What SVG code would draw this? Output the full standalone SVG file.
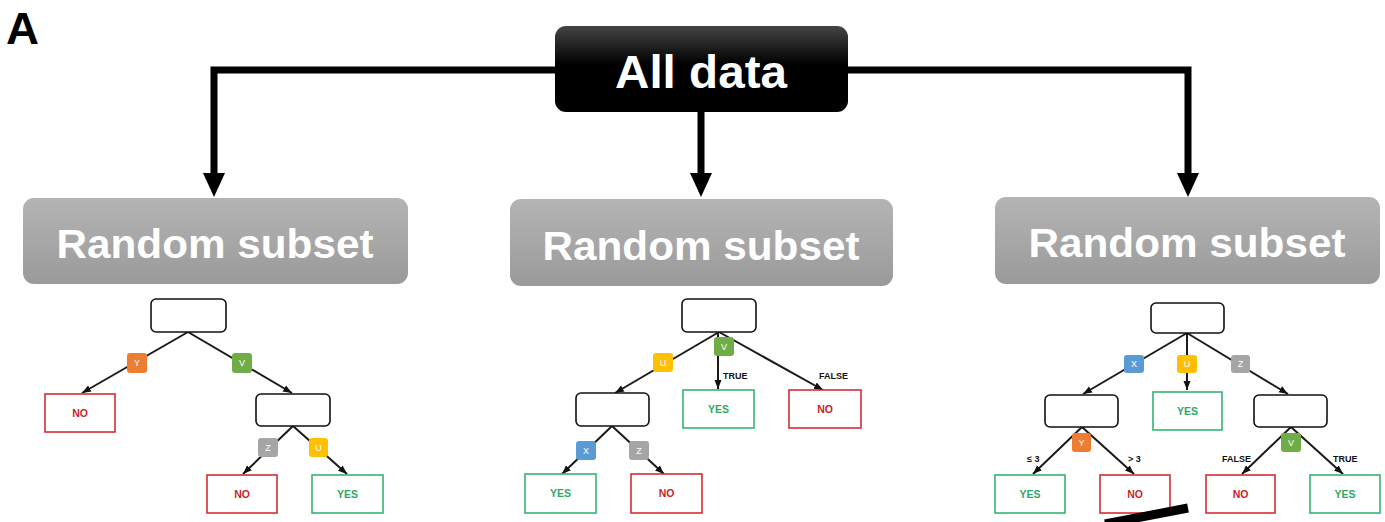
<svg xmlns="http://www.w3.org/2000/svg" width="1385" height="522" viewBox="0 0 1385 522">
<defs>
<linearGradient id="gBlack" x1="0" y1="0" x2="0" y2="1"><stop offset="0" stop-color="#454545"/><stop offset="0.45" stop-color="#000"/><stop offset="1" stop-color="#000"/></linearGradient>
<linearGradient id="gGray" x1="0" y1="0" x2="0" y2="1"><stop offset="0" stop-color="#b4b4b4"/><stop offset="1" stop-color="#9a9a9a"/></linearGradient>
<marker id="ah" markerUnits="userSpaceOnUse" markerWidth="10" markerHeight="10" viewBox="0 0 10 10" refX="9" refY="5" orient="auto"><path d="M0,1.5 L9,5 L0,8.5 z" fill="#111"/></marker>
</defs>
<style>
.lbl{font-family:"Liberation Sans",Arial,sans-serif;font-weight:bold}
.big{fill:#fff;font-size:40px;text-anchor:middle}
.node{fill:#fff;stroke:#111;stroke-width:1.6}
.no{fill:#fff;stroke:#d52b35;stroke-width:1.6}
.yes{fill:#fff;stroke:#33b56e;stroke-width:1.6}
.tno{fill:#c81e2a;font-size:10.5px;text-anchor:middle}
.tyes{fill:#2fa866;font-size:10.5px;text-anchor:middle}
.tag{font-size:9px;fill:#fff;text-anchor:middle;font-weight:normal}
.edge{font-size:9px;fill:#111}
.ln{stroke:#1a1a1a;stroke-width:2;fill:none}
.arr{stroke:#1a1a1a;stroke-width:2;fill:none;marker-end:url(#ah)}
.o{fill:#ed7d31}.g{fill:#70ad47}.y{fill:#ffc000}.z{fill:#a5a5a5}.b{fill:#5b9bd5}
.thick{stroke:#000;stroke-width:7;fill:none}
</style>
<text x="6" y="44" class="lbl" font-size="45" textLength="33" lengthAdjust="spacingAndGlyphs">A</text>

<g id="connectors">
<path class="thick" d="M556,70 H214 V176"/>
<polygon points="203,173 225,173 214,197" fill="#000"/>
<path class="thick" d="M701,112 V176"/>
<polygon points="690,173 712,173 701,197" fill="#000"/>
<path class="thick" d="M847,70 H1188 V176"/>
<polygon points="1177,173 1199,173 1188,197" fill="#000"/>
</g>

<g id="all-data">
<rect x="555" y="26" width="293" height="86" rx="11" fill="url(#gBlack)"/>
<text x="701" y="88" class="lbl" fill="#fff" font-size="47" text-anchor="middle" textLength="172" lengthAdjust="spacingAndGlyphs">All data</text>
</g>
<g id="subset1">
<rect x="23" y="198" width="385" height="86" rx="11" fill="url(#gGray)"/>
<text x="215" y="258" class="lbl big" textLength="317" lengthAdjust="spacingAndGlyphs">Random subset</text>
</g>
<g id="subset2">
<rect x="510" y="199" width="383" height="87" rx="11" fill="url(#gGray)"/>
<text x="701" y="260" class="lbl big" textLength="317" lengthAdjust="spacingAndGlyphs">Random subset</text>
</g>
<g id="subset3">
<rect x="995" y="197" width="385" height="87" rx="11" fill="url(#gGray)"/>
<text x="1187" y="257" class="lbl big" textLength="317" lengthAdjust="spacingAndGlyphs">Random subset</text>
</g>

<!-- Tree 1 -->
<g id="tree1-edges">
<line class="arr" x1="188" y1="332" x2="82" y2="393"/>
<line class="arr" x1="188" y1="332" x2="292" y2="393"/>
<line class="arr" x1="293" y1="426" x2="243" y2="474"/>
<line class="arr" x1="293" y1="426" x2="347" y2="474"/>
</g>
<g id="tree1">
<rect class="node" x="151" y="299" width="75" height="33" rx="5"/>
<rect class="o" x="127" y="353" width="20" height="20" rx="3"/><text class="lbl tag" x="137" y="366">Y</text>
<rect class="g" x="232" y="353" width="20" height="20" rx="3"/><text class="lbl tag" x="242" y="366">V</text>
<rect class="no" x="45" y="394" width="70" height="38"/><text class="lbl tno" x="80" y="417">NO</text>
<rect class="node" x="256" y="394" width="74" height="32" rx="5"/>
<rect class="z" x="258" y="438" width="20" height="19" rx="3"/><text class="lbl tag" x="268" y="451">Z</text>
<rect class="y" x="309" y="438" width="19" height="19" rx="3"/><text class="lbl tag" x="318.5" y="451">U</text>
<rect class="no" x="207" y="475" width="70" height="38"/><text class="lbl tno" x="242" y="498">NO</text>
<rect class="yes" x="312" y="475" width="71" height="38"/><text class="lbl tyes" x="347.5" y="498">YES</text>
</g>

<!-- Tree 2 -->
<g id="tree2-edges">
<line class="arr" x1="719" y1="332" x2="615" y2="393"/>
<line class="arr" x1="718" y1="332" x2="718" y2="389"/>
<line class="arr" x1="719" y1="332" x2="823" y2="390"/>
<line class="arr" x1="612" y1="426" x2="562" y2="474"/>
<line class="arr" x1="612" y1="426" x2="664" y2="474"/>
</g>
<g id="tree2">
<rect class="node" x="682" y="299" width="74" height="33" rx="5"/>
<rect class="y" x="653" y="353" width="20" height="19" rx="3"/><text class="lbl tag" x="663" y="366">U</text>
<rect class="g" x="714" y="337" width="20" height="19" rx="3"/><text class="lbl tag" x="724" y="350">V</text>
<text class="lbl edge" x="723" y="379">TRUE</text>
<text class="lbl edge" x="819" y="379">FALSE</text>
<rect class="node" x="576" y="393" width="73" height="33" rx="5"/>
<rect class="yes" x="683" y="390" width="71" height="38"/><text class="lbl tyes" x="718.5" y="413">YES</text>
<rect class="no" x="789" y="390" width="72" height="38"/><text class="lbl tno" x="825" y="413">NO</text>
<rect class="b" x="576" y="441" width="20" height="19" rx="3"/><text class="lbl tag" x="586" y="454">X</text>
<rect class="z" x="629" y="441" width="20" height="19" rx="3"/><text class="lbl tag" x="639" y="454">Z</text>
<rect class="yes" x="525" y="474" width="71" height="39"/><text class="lbl tyes" x="560.5" y="497">YES</text>
<rect class="no" x="631" y="474" width="71" height="39"/><text class="lbl tno" x="666.5" y="497">NO</text>
</g>

<!-- Tree 3 -->
<g id="tree3-edges">
<line class="arr" x1="1187" y1="333" x2="1083" y2="394"/>
<line class="arr" x1="1187" y1="333" x2="1187" y2="390"/>
<line class="arr" x1="1187" y1="333" x2="1288" y2="394"/>
<line class="arr" x1="1082" y1="427" x2="1033" y2="474"/>
<line class="arr" x1="1082" y1="427" x2="1134" y2="474"/>
<line class="arr" x1="1291" y1="427" x2="1242" y2="474"/>
<line class="arr" x1="1291" y1="427" x2="1343" y2="474"/>
</g>
<g id="tree3">
<rect class="node" x="1151" y="303" width="73" height="30" rx="5"/>
<rect class="b" x="1124" y="355" width="20" height="18" rx="3"/><text class="lbl tag" x="1134" y="367">X</text>
<rect class="y" x="1177" y="355" width="20" height="18" rx="3"/><text class="lbl tag" x="1187" y="367">U</text>
<rect class="z" x="1231" y="355" width="19" height="18" rx="3"/><text class="lbl tag" x="1240.5" y="367">Z</text>
<rect class="node" x="1045" y="395" width="73" height="32" rx="5"/>
<rect class="yes" x="1153" y="392" width="69" height="38"/><text class="lbl tyes" x="1187.5" y="415">YES</text>
<rect class="node" x="1254" y="395" width="73" height="32" rx="5"/>
<rect class="o" x="1072" y="433" width="19" height="19" rx="3"/><text class="lbl tag" x="1081.5" y="446">Y</text>
<rect class="g" x="1281" y="433" width="20" height="19" rx="3"/><text class="lbl tag" x="1291" y="446">V</text>
<text class="lbl edge" x="1027" y="462">≤ 3</text>
<text class="lbl edge" x="1128" y="462">&gt; 3</text>
<text class="lbl edge" x="1222" y="462">FALSE</text>
<text class="lbl edge" x="1333" y="462">TRUE</text>
<rect class="yes" x="995" y="475" width="70" height="38"/><text class="lbl tyes" x="1030" y="498">YES</text>
<rect class="no" x="1100" y="475" width="70" height="38"/><text class="lbl tno" x="1135" y="498">NO</text>
<rect class="no" x="1206" y="475" width="69" height="38"/><text class="lbl tno" x="1240.5" y="498">NO</text>
<rect class="yes" x="1310" y="475" width="70" height="38"/><text class="lbl tyes" x="1345" y="498">YES</text>
</g>
<path d="M1105,524 L1188,508" stroke="#000" stroke-width="9" fill="none"/>
</svg>
